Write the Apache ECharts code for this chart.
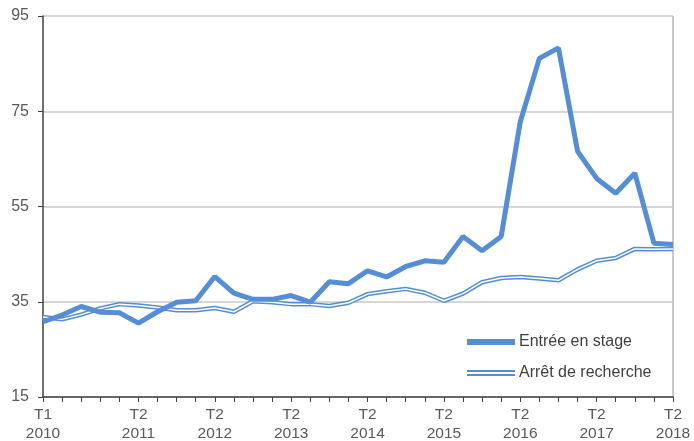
<!DOCTYPE html>
<html><head><meta charset="utf-8">
<script src="https://cdn.jsdelivr.net/npm/echarts@6/dist/echarts.min.js"></script>
<style>html,body{margin:0;padding:0;background:#fff}#c{width:694px;height:441px}</style>
</head><body><div id="c"></div>
<script>
const years = [2010,2011,2012,2013,2014,2015,2016,2017,2018];
const categories = [];
for (const y of years) for (const q of [1,2,3,4]) { if (y===2018 && q>2) break; categories.push('T'+q+'\n'+y); }
const labelIdx = [0,5,9,13,17,21,25,29,33];
const entreeStage = [30.8,32.2,34.0,32.8,32.7,30.5,32.9,34.9,35.2,40.3,36.8,35.5,35.5,36.3,34.9,39.2,38.8,41.5,40.2,42.4,43.6,43.3,48.7,45.7,48.7,72.8,86.1,88.3,66.6,60.9,57.8,62.0,47.3,47.0];
const arretRecherche = [31.8,31.3,32.3,33.6,34.5,34.2,33.8,33.2,33.2,33.7,32.9,35.1,34.9,34.5,34.5,34.1,34.8,36.6,37.2,37.7,36.9,35.2,36.7,39.1,40.0,40.2,39.9,39.5,41.8,43.6,44.2,46.1,46.0,46.1];
const yTicks = {min:15, max:95, interval:20};
const blue = '#558ED5';
const chart = echarts.init(document.getElementById('c'));
chart.setOption({
  animation:false,
  textStyle:{fontFamily:'Liberation Sans, Arial, sans-serif'},
  grid:{left:43,right:21,top:16,bottom:44,containLabel:false,outerBoundsMode:'none'},
  legend:{
    orient:'vertical', left:467, top:334, padding:0, itemGap:15, itemWidth:48, itemHeight:6,
    textStyle:{fontSize:16,lineHeight:16,color:'#404040',padding:[0,0,0,-1]},
    data:[
      {name:'Entrée en stage', icon:'path://M0,0H48V6H0Z'},
      {name:'Arrêt de recherche', icon:'path://M0,0H48V6H0Z M0,2V4H48V2Z'}
    ]
  },
  xAxis:{
    type:'category', data:categories, boundaryGap:false,
    axisLine:{lineStyle:{color:'#404040',width:1.5}},
    axisTick:{show:true,interval:0,length:5,lineStyle:{color:'#404040'}},
    axisLabel:{interval:(i)=>labelIdx.includes(i), fontSize:15.5, color:'#595959', lineHeight:19, margin:8},
    splitLine:{show:true, interval:(i)=>i===33, lineStyle:{color:'#C8C8C8',width:2}}
  },
  yAxis:{
    type:'value', min:yTicks.min, max:yTicks.max, interval:yTicks.interval,
    axisLine:{show:true,lineStyle:{color:'#404040',width:1.5}},
    axisTick:{show:true,length:5,lineStyle:{color:'#404040'}},
    axisLabel:{fontSize:16,color:'#595959',margin:14},
    splitLine:{lineStyle:{color:'#C8C8C8',width:1.5}}
  },
  series:[
    {name:'Arrêt de recherche', type:'line', data:arretRecherche, symbol:'none', color:blue, lineStyle:{width:4.5,color:blue}, z:2},
    {name:'arretInner', type:'line', data:arretRecherche, symbol:'none', color:'#fff', lineStyle:{width:1.5,color:'#fff'}, z:3, legendHoverLink:false},
    {name:'Entrée en stage', type:'line', data:entreeStage, symbol:'none', color:blue, lineStyle:{width:5,color:blue}, z:4}
  ]
});
</script></body></html>
